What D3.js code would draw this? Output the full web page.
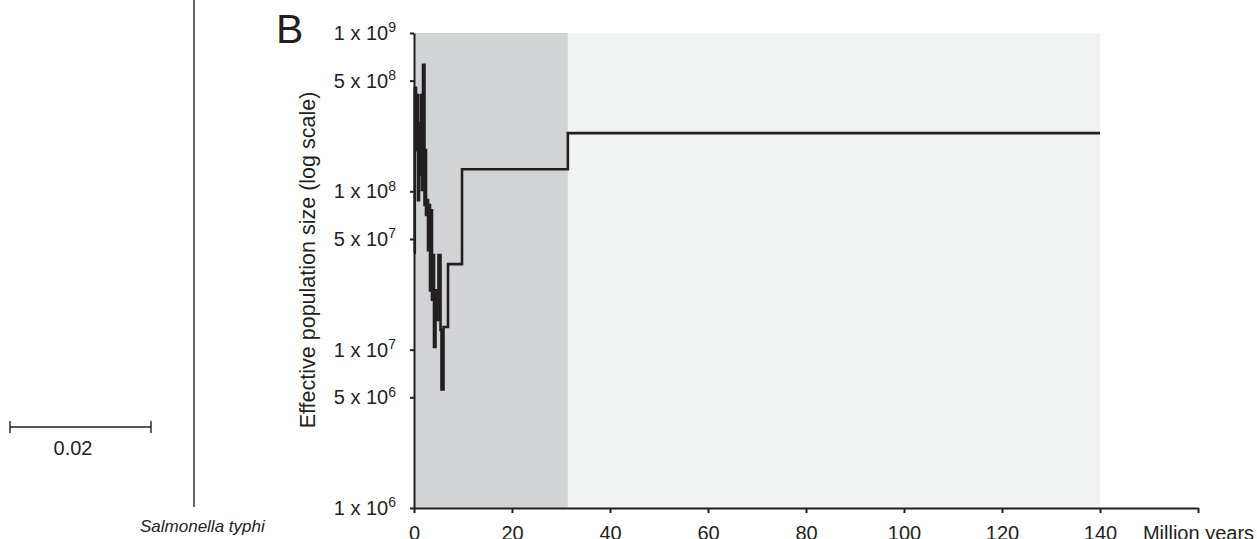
<!DOCTYPE html>
<html>
<head>
<meta charset="utf-8">
<script src="https://cdn.jsdelivr.net/npm/d3@7"></script>
<style>
  body { margin: 0; background: #fff; }
  svg { display: block; font-family: "Liberation Sans", Arial, sans-serif; }
  .axis path, .axis line { stroke: #231f20; stroke-width: 2; }
  .axis text { fill: #231f20; font-size: 20px; }
</style>
</head>
<body>
<div id="chart"></div>
<script>
// skyline steps: time (million years) and effective population size
var times = [0, 0.16, 0.41, 0.61, 0.82, 1.02, 1.22, 1.43, 1.63, 1.84, 2.14, 2.24, 2.45, 2.65,
    2.86, 3.06, 3.27, 3.47, 3.67, 3.88, 4.08, 4.39, 4.69, 5.0, 5.41, 5.61, 6.02, 6.94, 9.8, 31.4, 140];
var ne = [4.1e7, 4.5e8, 1.82e8, 4.06e8, 8.8e7, 2.7e8, 1.27e8, 4.06e8, 1.02e8, 6.3e8, 8.2e7, 1.82e8,
    7.1e7, 8.8e7, 4.25e7, 8.2e7, 2.37e7, 7.6e7, 2.07e7, 3.96e7, 1.04e7, 2.37e7, 1.54e7, 3.96e7,
    1.33e7, 5.6e6, 1.39e7, 3.47e7, 1.38e8, 2.33e8, 2.33e8];

// shaded periods
var periodStart = [0, 31.4];
var periodEnd = [31.4, 140];

var yTicks = [1e6, 5e6, 1e7, 5e7, 1e8, 5e8, 1e9];
var xTicks = [0, 20, 40, 60, 80, 100, 120, 140, 160];
var xLastLabel = "Million years";

var scaleBarValue = 0.02;
var taxon = "Salmonella typhi";

var width = 1257,
    height = 539;

var svg = d3.select('#chart')
    .append('svg')
    .attr('width', width)
    .attr('height', height);

var x = d3.scaleLinear().domain([0, 160]).range([414, 1198]);
var y = d3.scaleLog().domain([1e6, 1e9]).range([508, 33]);

// panel A remnants: tree branch and scale bar
var branch = d3.scaleLinear().domain([0, 0.02]).range([10, 151]);

svg.append('line')
    .attr('x1', 194).attr('x2', 194)
    .attr('y1', 0).attr('y2', 507)
    .attr('stroke', '#231f20')
    .attr('stroke-width', 1.4);

svg.append('text')
    .attr('x', 140)
    .attr('y', 532)
    .attr('font-size', 17)
    .attr('font-style', 'italic')
    .attr('fill', '#231f20')
    .text(taxon);

var bar = svg.append('g');
bar.append('line')
    .attr('x1', branch(0)).attr('x2', branch(scaleBarValue))
    .attr('y1', 427).attr('y2', 427);
[0, scaleBarValue].forEach(function (v) {
    bar.append('line')
        .attr('x1', branch(v)).attr('x2', branch(v))
        .attr('y1', 421).attr('y2', 433);
});
bar.selectAll('line')
    .attr('stroke', '#231f20')
    .attr('stroke-width', 1.4);
bar.append('text')
    .attr('x', 73)
    .attr('y', 455)
    .attr('text-anchor', 'middle')
    .attr('font-size', 20)
    .attr('fill', '#231f20')
    .text(scaleBarValue);

// panel B
svg.append('text')
    .attr('x', 276)
    .attr('y', 43)
    .attr('font-size', 41)
    .attr('fill', '#231f20')
    .text('B');

var periodColors = ['#d1d3d4', '#f1f2f2'];
svg.append('g')
    .selectAll('rect')
    .data(periodStart)
    .enter()
    .append('rect')
    .attr('x', function (d) { return x(d); })
    .attr('width', function (d, i) { return x(periodEnd[i]) - x(d); })
    .attr('y', y(1e9))
    .attr('height', y(1e6) - y(1e9))
    .attr('fill', function (d, i) { return periodColors[i]; });

var points = times.map(function (t, i) { return [t, ne[i]]; });
var line = d3.line()
    .x(function (d) { return x(d[0]); })
    .y(function (d) { return y(d[1]); })
    .curve(d3.curveStepAfter);

svg.append('path')
    .datum(points)
    .attr('d', line)
    .attr('fill', 'none')
    .attr('stroke', '#231f20')
    .attr('stroke-width', 2.6);

var xAxis = svg.append('g')
    .attr('class', 'axis')
    .attr('transform', 'translate(0,' + y(1e6) + ')')
    .call(d3.axisBottom(x)
        .tickValues(xTicks)
        .tickSize(5)
        .tickPadding(13)
        .tickSizeOuter(0)
        .tickFormat(function (d) { return d === 160 ? xLastLabel : d; }));

var yAxis = svg.append('g')
    .attr('class', 'axis')
    .attr('transform', 'translate(' + x(0) + ',0)')
    .call(d3.axisLeft(y)
        .tickValues(yTicks)
        .tickSize(4)
        .tickPadding(14)
        .tickSizeOuter(0)
        .tickFormat(''));

yAxis.selectAll('.tick text').each(function (d) {
    var exp = Math.floor(Math.log10(d) + 1e-9);
    var mant = Math.round(d / Math.pow(10, exp));
    var t = d3.select(this);
    t.append('tspan').text(mant + ' x 10');
    t.append('tspan')
        .attr('font-size', 14)
        .attr('dy', '-0.55em')
        .text(exp);
});

svg.append('text')
    .attr('transform', 'translate(315,260) rotate(-90)')
    .attr('text-anchor', 'middle')
    .attr('font-size', 21.5)
    .attr('fill', '#231f20')
    .text('Effective population size (log scale)');
</script>
</body>
</html>
